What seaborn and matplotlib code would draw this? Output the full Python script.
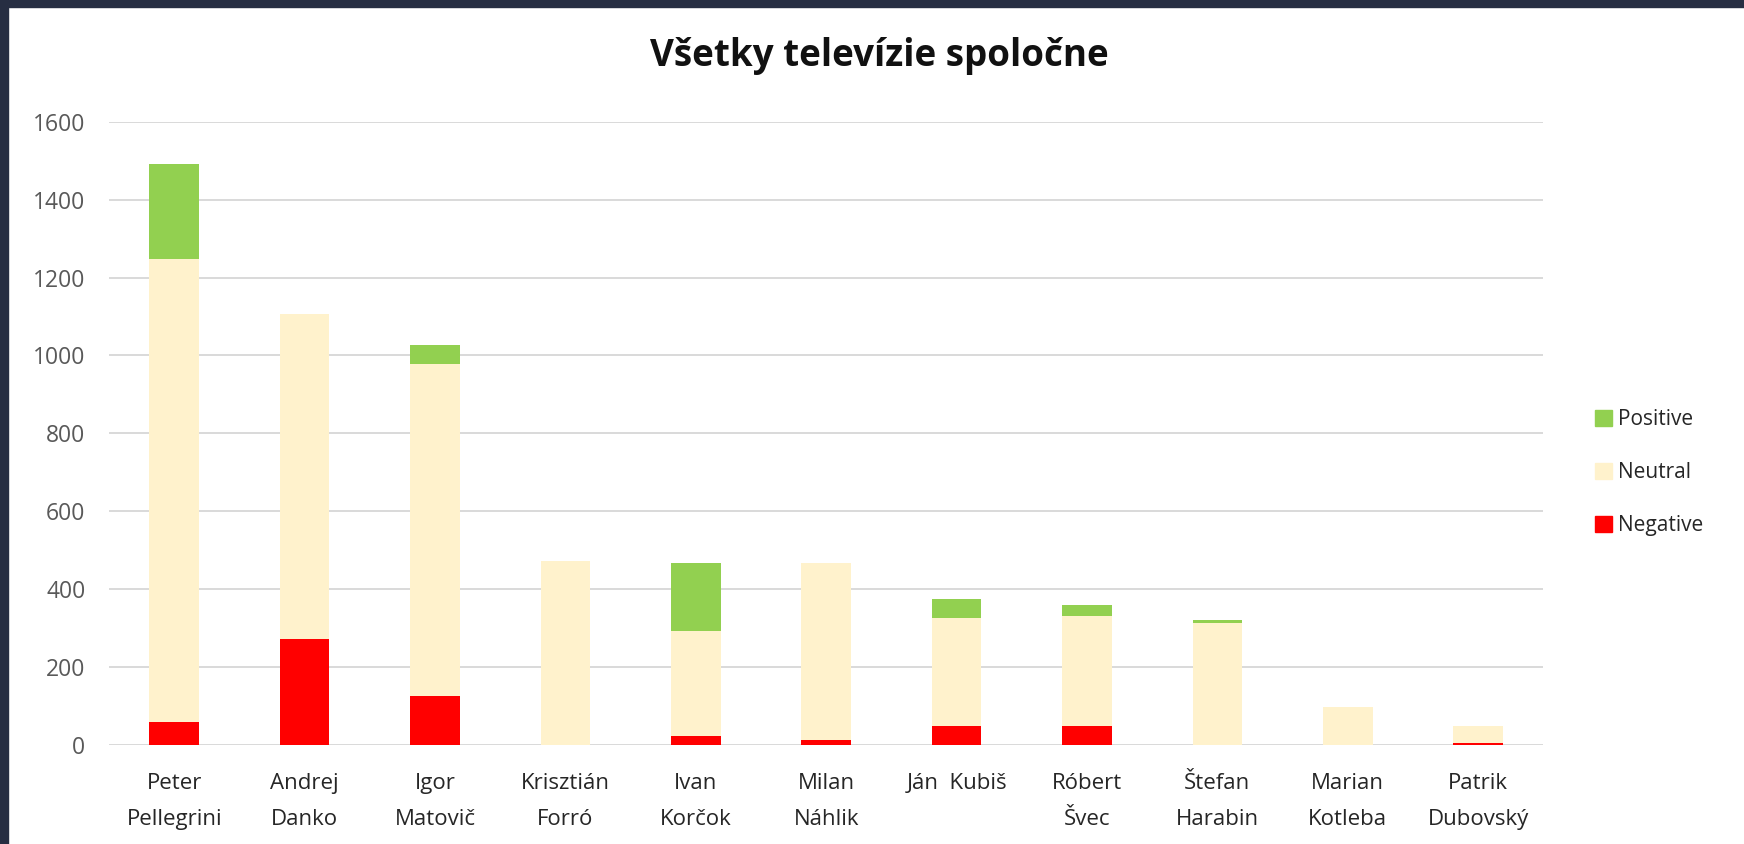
import numpy as np
import pandas as pd
import matplotlib.pyplot as plt
import seaborn as sns
from matplotlib.patches import Patch, Rectangle

# data
candidates = [
    "Peter\nPellegrini", "Andrej\nDanko", "Igor\nMatovič", "Krisztián\nForró",
    "Ivan\nKorčok", "Milan\nNáhlik", "Ján  Kubiš", "Róbert\nŠvec",
    "Štefan\nHarabin", "Marian\nKotleba", "Patrik\nDubovský",
]
negative = [60, 272, 126, 0, 24, 13, 50, 50, 0, 0, 5]
neutral = [1187, 834, 851, 472, 269, 454, 276, 280, 313, 98, 44]
positive = [244, 0, 49, 0, 175, 0, 49, 29, 7, 0, 0]

df = pd.DataFrame({
    "name": candidates,
    "Negative": negative,
    "Neutral": neutral,
    "Positive": positive,
})
df["neg_top"] = df["Negative"]
df["neu_top"] = df["Negative"] + df["Neutral"]
df["pos_top"] = df["neu_top"] + df["Positive"]

colors = {"Positive": "#92D050", "Neutral": "#FFF2CC", "Negative": "#FF0000"}

sns.set_style("white")
plt.rcParams["font.family"] = ["Open Sans", "DejaVu Sans"]

fig = plt.figure(figsize=(17.44, 8.44), dpi=100)
ax = fig.add_axes([0.0625, 0.1173, 0.8225, 0.7385])

# stacked bars drawn as overlapping cumulative totals
for col, c in [("pos_top", colors["Positive"]), ("neu_top", colors["Neutral"]),
               ("neg_top", colors["Negative"])]:
    sns.barplot(data=df, x="name", y=col, color=c, width=0.38,
                linewidth=0, saturation=1, ax=ax)

ax.set_ylim(0, 1600)
ax.set_yticks(np.arange(0, 1601, 200))
ax.set_xlim(-0.5, len(candidates) - 0.5)
ax.set(xlabel="", ylabel="")
ax.yaxis.grid(True, color="#D9D9D9", linewidth=1.4)
ax.set_axisbelow(True)
for s in ax.spines.values():
    s.set_visible(False)
ax.tick_params(axis="y", length=0, pad=17, labelsize=16.5, labelcolor="#595959")
ax.tick_params(axis="x", length=0, pad=20, labelsize=16, labelcolor="#262626")
for lab in ax.get_xticklabels():
    lab.set_linespacing(1.95)

fig.text(0.504, 0.934, "Všetky televízie spoločne", ha="center", va="center",
         fontsize=26.5, fontweight="bold", color="#111111")

handles = [Patch(color=colors[k], label=k) for k in ["Positive", "Neutral", "Negative"]]
fig.legend(handles=handles, loc="center left", bbox_to_anchor=(0.904, 0.44),
           frameon=False, fontsize=15, handlelength=0.8, handleheight=0.8,
           handletextpad=0.3, labelspacing=1.55, labelcolor="#262626")

# dark frame on the top and left edge
fig.patches.append(Rectangle((0, 1 - 7 / 844), 1, 7 / 844, transform=fig.transFigure,
                             color="#262E42", zorder=10))
fig.patches.append(Rectangle((0, 0), 8 / 1744, 1, transform=fig.transFigure,
                             color="#262E42", zorder=10))

fig.savefig("out.png", dpi=100, facecolor="white")
